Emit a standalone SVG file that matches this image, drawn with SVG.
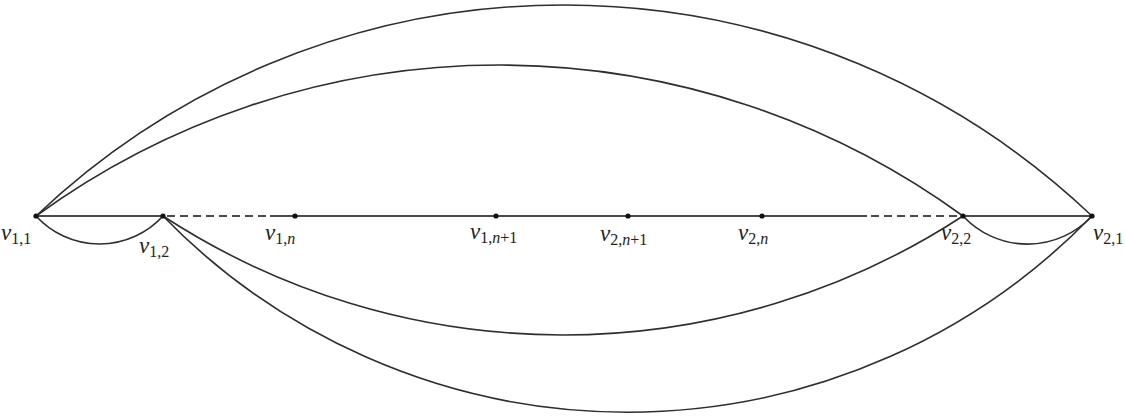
<svg xmlns="http://www.w3.org/2000/svg" width="1125" height="416" viewBox="0 0 1125 416">
<style>
.e{fill:none;stroke:#2e2e2e;stroke-width:1.6}
.h{fill:none;stroke:#4a4a4a;stroke-width:2.2}
.d{fill:none;stroke:#4a4a4a;stroke-width:2.2;stroke-dasharray:8 5}
.v{font-family:'Liberation Serif','Times New Roman','DejaVu Serif',serif;font-style:italic;font-size:23px;fill:#222}
.s{font-family:'Liberation Serif','Times New Roman','DejaVu Serif',serif;font-size:16px;fill:#222;font-style:normal}
.si{font-style:italic}
.n{fill:#111}
</style>
<rect width="1125" height="416" fill="#fff"/>
<g id="connectors">
<path class="e" d="M36,216 A766,766 0 0 1 1092,216"/>
<path class="e" d="M36,216 A787,787 0 0 1 963,216"/>
<path class="e" d="M36,216 A86,86 0 0 0 163,216"/>
<path class="e" d="M963,216 A88,88 0 0 0 1092,216"/>
<path class="e" d="M163,216 A732,732 0 0 0 963,216"/>
<path class="e" d="M163,216 A648,648 0 0 0 1092,216"/>
<line class="h" x1="36" y1="216" x2="163" y2="216"/>
<line class="d" x1="167" y1="216" x2="270" y2="216"/>
<line class="h" x1="270" y1="216" x2="867" y2="216"/>
<line class="d" x1="871" y1="216" x2="960" y2="216"/>
<line class="h" x1="963" y1="216" x2="1092" y2="216"/>
</g>
<g id="v11"><circle class="n" cx="36" cy="216" r="2.6"/><text class="v" x="1" y="240">v<tspan class="s" dy="4">1,1</tspan></text></g>
<g id="v12"><circle class="n" cx="163" cy="216" r="2.6"/><text class="v" x="139" y="253">v<tspan class="s" dy="4">1,2</tspan></text></g>
<g id="v1n"><circle class="n" cx="295" cy="216" r="2.6"/><text class="v" x="265" y="240">v<tspan class="s" dy="4">1,<tspan class="si">n</tspan></tspan></text></g>
<g id="v1n1"><circle class="n" cx="496" cy="216" r="2.6"/><text class="v" x="470" y="239">v<tspan class="s" dy="4">1,<tspan class="si">n</tspan>+1</tspan></text></g>
<g id="v2n1"><circle class="n" cx="628" cy="216" r="2.6"/><text class="v" x="600" y="241">v<tspan class="s" dy="4">2,<tspan class="si">n</tspan>+1</tspan></text></g>
<g id="v2n"><circle class="n" cx="762" cy="216" r="2.6"/><text class="v" x="738" y="240">v<tspan class="s" dy="4">2,<tspan class="si">n</tspan></tspan></text></g>
<g id="v22"><circle class="n" cx="963" cy="216" r="2.6"/><text class="v" x="941" y="240">v<tspan class="s" dy="4">2,2</tspan></text></g>
<g id="v21"><circle class="n" cx="1092" cy="216" r="2.6"/><text class="v" x="1093" y="240">v<tspan class="s" dy="4">2,1</tspan></text></g>
</svg>
